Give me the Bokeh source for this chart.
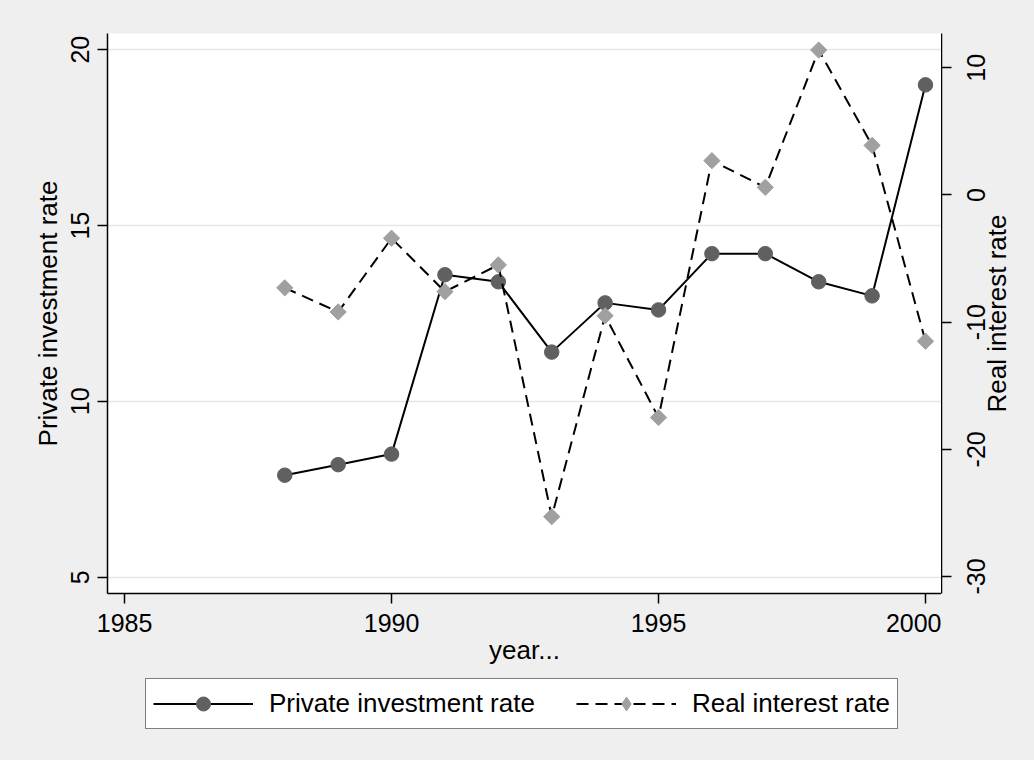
import math
from bokeh.plotting import figure
from bokeh.layouts import row, column
from bokeh.models import (Range1d, LinearAxis, FixedTicker, Legend, LegendItem,
                          PrintfTickFormatter)
from bokeh.embed import file_html
from bokeh.resources import INLINE

# ---- data ----
years = [1988, 1989, 1990, 1991, 1992, 1993, 1994, 1995, 1996, 1997, 1998, 1999, 2000]
investment = [7.9, 8.2, 8.5, 13.6, 13.4, 11.4, 12.8, 12.6, 14.2, 14.2, 13.4, 13.0, 19.0]
interest = [-7.3, -9.2, -3.4, -7.6, -5.5, -25.3, -9.5, -17.5, 2.7, 0.6, 11.4, 3.9, -11.5]
x_ticks = [1985, 1990, 1995, 2000]
left_ticks = [5, 10, 15, 20]
right_ticks = [-30, -20, -10, 0, 10]
left_title = "Private investment rate"
right_title = "Real interest rate"
x_title = "year..."
series_names = ["Private investment rate", "Real interest rate"]

FONT = "Liberation Sans"
BG = "#EFEFEF"
TICK_FS = "25px"
TITLE_FS = "26px"
TOP, FRAME_H, FRAME_W, BOTTOM = 33, 560, 834, 85
LEG_LEFT = 145

right_range = Range1d(-31.34, 12.70)

def style_axis(ax):
    ax.axis_line_color = "black"
    ax.axis_line_width = 1.5
    ax.major_tick_line_color = "black"
    ax.major_tick_line_width = 1.5
    ax.major_tick_out = 10
    ax.major_tick_in = 0
    ax.minor_tick_line_color = None
    ax.major_label_text_font = FONT
    ax.major_label_text_font_size = TICK_FS
    ax.major_label_text_color = "black"
    ax.axis_label_text_font = FONT
    ax.axis_label_text_font_size = TITLE_FS
    ax.axis_label_text_font_style = "normal"
    ax.axis_label_text_color = "black"

def plain(fig):
    fig.background_fill_color = BG
    fig.border_fill_color = BG
    fig.outline_line_color = None
    fig.xgrid.grid_line_color = None
    fig.ygrid.grid_line_color = None

# ---------------- main plot ----------------
p = figure(frame_width=FRAME_W, frame_height=FRAME_H,
           min_border_left=107, min_border_right=0, min_border_top=TOP,
           min_border_bottom=BOTTOM,
           output_backend="svg", toolbar_location=None,
           x_range=Range1d(1984.68, 2000.30), y_range=Range1d(4.536, 20.46))
p.extra_y_ranges = {"r": right_range}

p.background_fill_color = "white"
p.border_fill_color = BG
p.outline_line_color = None
p.xgrid.grid_line_color = None
p.ygrid.grid_line_color = "#E6E6E6"
p.ygrid.grid_line_width = 1.5
p.ygrid.ticker = FixedTicker(ticks=left_ticks)

xa = p.xaxis[0]
style_axis(xa)
xa.ticker = FixedTicker(ticks=x_ticks)
xa.axis_label = x_title
xa.major_label_standoff = 10
xa.axis_label_standoff = 0

ya = p.yaxis[0]
style_axis(ya)
ya.ticker = FixedTicker(ticks=left_ticks)
ya.axis_label = left_title
ya.major_label_orientation = "vertical"
ya.major_label_standoff = 8
ya.axis_label_standoff = 6

p.line(years, investment, line_color="black", line_width=2)
p.scatter(years, investment, marker="circle", size=14.5,
          fill_color="#606060", line_color="#606060")
p.line(years, interest, y_range_name="r", line_color="black", line_width=2,
       line_dash="12 7")
p.scatter(years, interest, y_range_name="r", marker="square", size=11.5,
          angle=math.pi / 4, fill_color="#A0A0A0", line_color="#A0A0A0")

# ---------------- right axis strip ----------------
p2 = figure(frame_width=1034 - 107 - FRAME_W, frame_height=FRAME_H,
            min_border_left=0, min_border_right=0, min_border_top=TOP,
            min_border_bottom=BOTTOM,
            output_backend="svg", toolbar_location=None,
            x_axis_type=None, y_axis_type=None,
            x_range=Range1d(0, 1), y_range=right_range)
plain(p2)
ra = LinearAxis()
style_axis(ra)
ra.ticker = FixedTicker(ticks=right_ticks)
ra.formatter = PrintfTickFormatter(format="%d")
ra.major_tick_out = 0
ra.major_tick_in = 10
ra.major_label_orientation = "vertical"
ra.major_label_standoff = -44
ra.axis_label = right_title
ra.axis_label_standoff = -47
p2.add_layout(ra, "left")

# ---------------- legend strip ----------------
p3 = figure(frame_width=1034 - LEG_LEFT, frame_height=760 - TOP - FRAME_H - BOTTOM,
            min_border_left=LEG_LEFT, min_border_right=0, min_border_top=0,
            min_border_bottom=0,
            output_backend="svg", toolbar_location=None,
            x_axis_type=None, y_axis_type=None,
            x_range=Range1d(0, 1), y_range=Range1d(0, 1))
plain(p3)
k1 = [p3.line(years, investment, line_color="black", line_width=2),
      p3.scatter(years, investment, marker="circle",
                 fill_color="#606060", line_color="#606060")]
k2 = [p3.line(years, interest, line_color="black", line_width=2, line_dash="12 7"),
      p3.scatter(years, interest, marker="diamond",
                 fill_color="#A0A0A0", line_color="#A0A0A0")]

legend = Legend(items=[LegendItem(label=series_names[0], renderers=k1),
                       LegendItem(label=series_names[1], renderers=k2)],
                orientation="horizontal", location="top_left")
legend.glyph_width = 100
legend.glyph_height = 35
legend.label_standoff = 16
legend.spacing = 41
legend.padding = 7
legend.margin = 0
legend.label_text_font = FONT
legend.label_text_font_size = TITLE_FS
legend.label_text_color = "black"
legend.border_line_color = "black"
legend.border_line_width = 1.5
legend.background_fill_color = "white"
legend.background_fill_alpha = 1.0
p3.add_layout(legend, "center")

layout = column(row(p, p2, spacing=0, styles={"background-color": BG}), p3,
                spacing=0, styles={"background-color": BG})
open("out.html", "w").write(file_html(layout, INLINE))
